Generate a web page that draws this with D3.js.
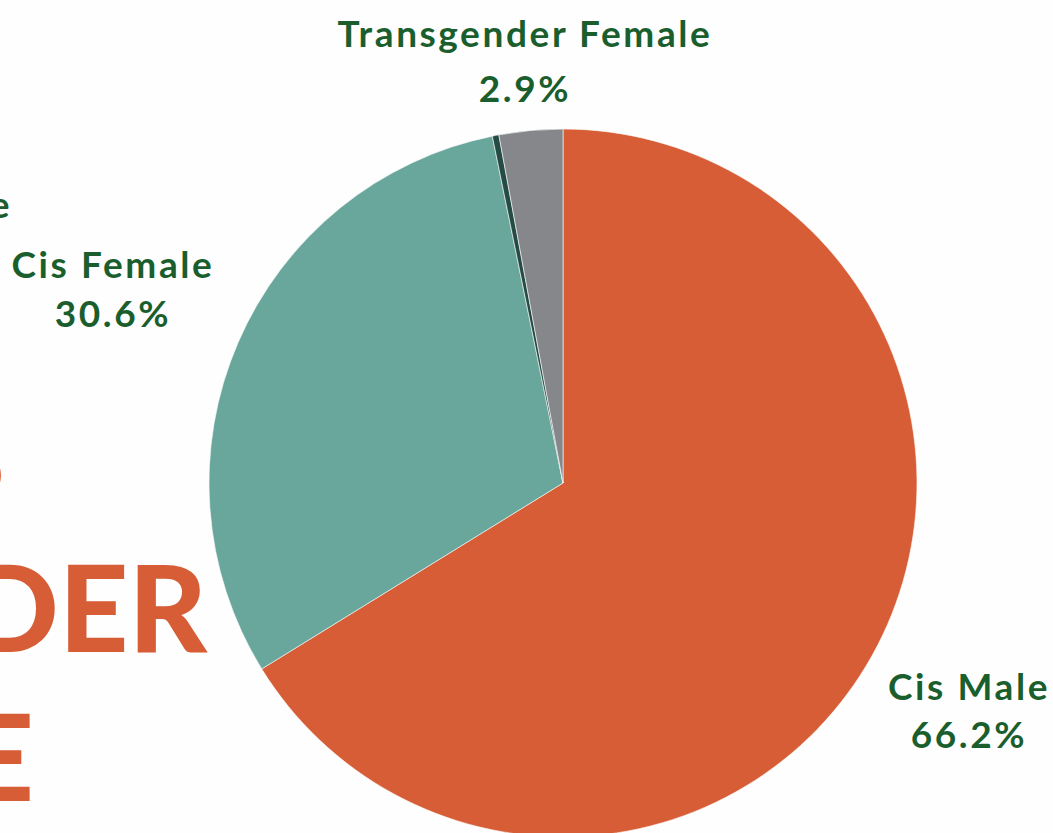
<!DOCTYPE html>
<html>
<head>
<meta charset="utf-8">
<script src="https://cdn.jsdelivr.net/npm/d3@7"></script>
<style>
  html, body { margin: 0; padding: 0; background: #fefefe; }
  svg { display: block; }
</style>
</head>
<body>
<svg width="1053" height="833"></svg>
<script>
// data
var categories = ["Cis Male", "Cis Female", "Transgender Male", "Transgender Female"];
var values = [66.2, 30.6, 0.3, 2.9];
var colors = ["#d65d35", "#69a69b", "#244c45", "#86878b"];

// where each label sits (layout only): [x, y, line gap]; null x = right edge pinned at 12px
var labelPos = [[969, 700, 48], [113, 278, 49], [null, 218, 49], [525, 47, 55]];

// title lines (cropped at left edge in the original)
var titleLines = ["RESPONDENTS", "BY GENDER", "PROFILE"];

var svg = d3.select("svg"),
	width = +svg.attr("width"),
	height = +svg.attr("height");

var cx = 563, cy = 483, radius = 354;

// big orange title, mostly off canvas
svg.append("g")
	.selectAll("text")
	.data(titleLines)
	.enter().append("text")
	.attr("x", (d, i) => [5, 207, 34][i])
	.attr("y", (d, i) => 503 + i * 149)
	.attr("text-anchor", "end")
	.attr("fill", "#d65d35")
	.style("font-family", "Lato, sans-serif")
	.style("font-weight", 900)
	.style("font-size", "121px")
	.text(d => d);

// pie
var pie = d3.pie().sort(null).value(d => d);
var arc = d3.arc().innerRadius(0).outerRadius(radius);

var g = svg.append("g")
	.attr("transform", "translate(" + cx + "," + cy + ")");

g.selectAll(".slice")
	.data(pie(values))
	.enter().append("path")
	.attr("class", "slice")
	.attr("d", arc)
	.attr("fill", (d, i) => colors[i])
	.attr("stroke", "#fefefe")
	.attr("stroke-width", 0.6);

// labels
var labels = svg.append("g")
	.selectAll("text")
	.data(categories)
	.enter().append("text")
	.attr("text-anchor", "middle")
	.attr("fill", "#1b5e2e")
	.style("font-family", "Lato, sans-serif")
	.style("font-weight", 700)
	.style("font-size", "37px")
	.style("letter-spacing", "2.6px");

var names = labels.append("tspan")
	.attr("y", (d, i) => labelPos[i][1])
	.text(d => d);

var pcts = labels.append("tspan")
	.attr("y", (d, i) => labelPos[i][1] + labelPos[i][2])
	.text((d, i) => values[i].toFixed(1) + "%");

// centre x of each label; the cropped one is pinned by its right edge
var centreX = names.nodes().map(function(n, i) {
	if (labelPos[i][0] !== null) return labelPos[i][0];
	return 12 - n.getComputedTextLength() / 2;
});
names.attr("x", (d, i) => centreX[i]);
pcts.attr("x", (d, i) => centreX[i]);
</script>
</body>
</html>
